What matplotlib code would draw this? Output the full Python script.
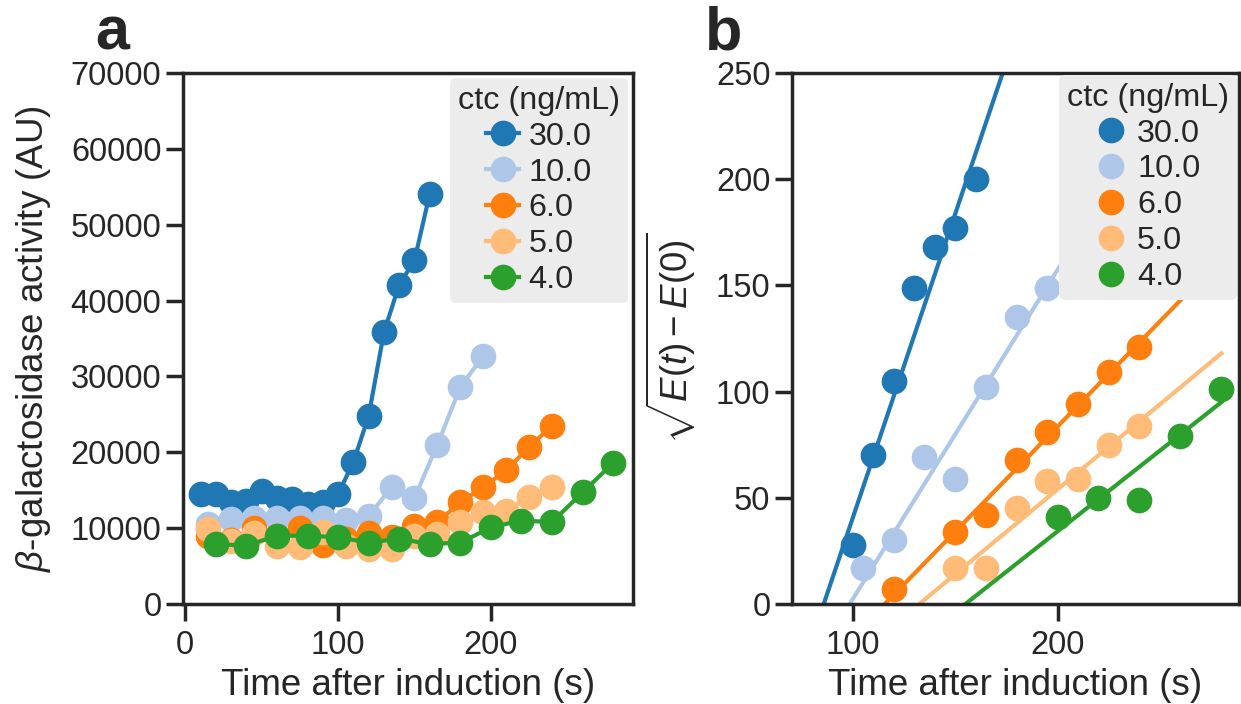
import numpy as np
import matplotlib
matplotlib.use("Agg")
import matplotlib.pyplot as plt

# ---- data -------------------------------------------------------------
concentrations = ["30.0", "10.0", "6.0", "5.0", "4.0"]
colors = ["#1f77b4", "#aec7e8", "#ff7f0e", "#ffbb78", "#2ca02c"]

# panel a: raw beta-galactosidase activity (AU) vs time (s)
time_30 = [10, 20, 30, 40, 50, 60, 70, 80, 90, 100, 110, 120, 130, 140, 150, 160]
act_30 = [14500, 14500, 13400, 13600, 14900, 14000, 13800, 13200, 13400, 14500,
          18700, 24800, 35800, 42100, 45300, 54100]

time_10 = [15, 30, 45, 60, 75, 90, 105, 120, 135, 150, 165, 180, 195]
act_10 = [10600, 11200, 11400, 11400, 11400, 11300, 11100, 11600, 15400, 14000,
          21000, 28600, 32700]

time_6 = [15, 30, 45, 60, 75, 90, 105, 120, 135, 150, 165, 180, 195, 210, 225, 240]
act_6 = [9000, 8500, 10000, 9000, 10000, 7800, 8600, 9300, 8800, 10300, 10800,
         13400, 15400, 17600, 20700, 23500]

time_5 = [15, 30, 45, 60, 75, 90, 105, 120, 135, 150, 165, 180, 195, 210, 225, 240]
act_5 = [9900, 8300, 9400, 7700, 7500, 9500, 7700, 7300, 7300, 9000, 9200,
         10800, 12100, 12300, 14100, 15400]

time_4 = [20, 40, 60, 80, 100, 120, 140, 160, 180, 200, 220, 240, 260, 280]
act_4 = [7900, 7700, 9000, 9000, 8800, 8100, 8600, 7900, 8100, 10100, 11000,
         10800, 14700, 18600]

# panel b: sqrt(E(t) - E(0)) for the rising part of each curve
tb_30 = [100, 110, 120, 130, 140, 150, 160]
sq_30 = [28, 70, 105, 149, 168, 177, 200]
tb_10 = [105, 120, 135, 150, 165, 180, 195]
sq_10 = [17, 30, 69, 59, 102, 135, 149]
tb_6 = [120, 150, 165, 180, 195, 210, 225, 240]
sq_6 = [7, 34, 42, 68, 81, 94, 109, 121]
tb_5 = [150, 165, 180, 195, 210, 225, 240]
sq_5 = [17, 17, 45, 58, 59, 75, 84]
tb_4 = [200, 220, 240, 260, 280]
sq_4 = [41, 50, 49, 79, 101]

# linear fits: slope and time-axis intercept
fit_slope = [2.86, 1.55, 0.99, 0.80, 0.76]
fit_t0 = [85.8, 98.5, 115.6, 132.5, 155.0]
fit_range = [75, 280]

raw_t = [time_30, time_10, time_6, time_5, time_4]
raw_y = [act_30, act_10, act_6, act_5, act_4]
sq_t = [tb_30, tb_10, tb_6, tb_5, tb_4]
sq_y = [sq_30, sq_10, sq_6, sq_5, sq_4]

# ---- style ------------------------------------------------------------
ink = "#262626"
plt.rcParams.update({
    "font.family": ["Liberation Sans", "DejaVu Sans"],
    "mathtext.fontset": "custom",
    "mathtext.rm": "Liberation Sans",
    "mathtext.it": "Liberation Sans:italic",
    "mathtext.bf": "Liberation Sans:bold",
    "text.color": ink,
    "axes.labelcolor": ink,
    "axes.edgecolor": ink,
    "axes.linewidth": 2.5,
    "xtick.color": ink,
    "ytick.color": ink,
    "xtick.major.size": 12,
    "ytick.major.size": 12,
    "xtick.major.width": 2.5,
    "ytick.major.width": 2.5,
    "xtick.major.pad": 6.5,
    "xtick.labelsize": 23.5,
    "ytick.labelsize": 23.5,
    "axes.labelsize": 26.5,
})

fig = plt.figure(figsize=(12.41, 7.04), dpi=100)
W, H = 1241, 704
ax_a = fig.add_axes([183 / W, 1 - 604 / H, (633 - 183) / W, (604 - 73) / H])
ax_b = fig.add_axes([792 / W, 1 - 604 / H, (1238.5 - 792) / W, (604 - 73) / H])

ms = 18.5

# ---- panel a ----------------------------------------------------------
for t, y, c, lab in zip(raw_t, raw_y, colors, concentrations):
    ax_a.plot(t, y, "-o", color=c, lw=3, ms=ms, mew=0, label=lab)

ax_a.set_xlim(-1.5, 293)
ax_a.set_ylim(0, 70000)
ax_a.set_xticks([0, 100, 200])
ax_a.set_yticks(np.arange(0, 70001, 10000))
ax_a.set_xlabel("Time after induction (s)", labelpad=5)
ax_a.set_ylabel(r"$\beta$-galactosidase activity (AU)", labelpad=13)

# ---- panel b ----------------------------------------------------------
tt = np.array(fit_range, dtype=float)
for t, y, c, lab, k, t0 in zip(sq_t, sq_y, colors, concentrations, fit_slope, fit_t0):
    ax_b.plot(t, y, "o", color=c, ms=ms, mew=0, label=lab)
    ax_b.plot(tt, k * (tt - t0), "-", color=c, lw=3)

ax_b.set_xlim(70.3, 288.4)
ax_b.set_ylim(0, 250)
ax_b.set_xticks([100, 200])
ax_b.set_yticks(np.arange(0, 251, 50))
ax_b.set_xlabel("Time after induction (s)", labelpad=5)
ax_b.set_ylabel(r"$\sqrt{E(t) - E(0)}$", labelpad=13)

legend_pad = [0.15, 0.05]
for ax, pad in zip((ax_a, ax_b), legend_pad):
    leg = ax.legend(title="ctc (ng/mL)", loc="upper right", fontsize=23.3,
                    title_fontsize=23.3, frameon=True, fancybox=True,
                    facecolor="#ececec", edgecolor="none", framealpha=1,
                    borderaxespad=pad, borderpad=0.25, labelspacing=0.18,
                    handlelength=1.0, handletextpad=0.3)
    for txt in leg.get_texts():
        txt.set_color(ink)

fig.text(95 / W, 1 - 50 / H, "a", fontsize=44, fontweight="bold", color=ink)
fig.text(705 / W, 1 - 50 / H, "b", fontsize=44, fontweight="bold", color=ink)

fig.savefig("out.png", dpi=100)
